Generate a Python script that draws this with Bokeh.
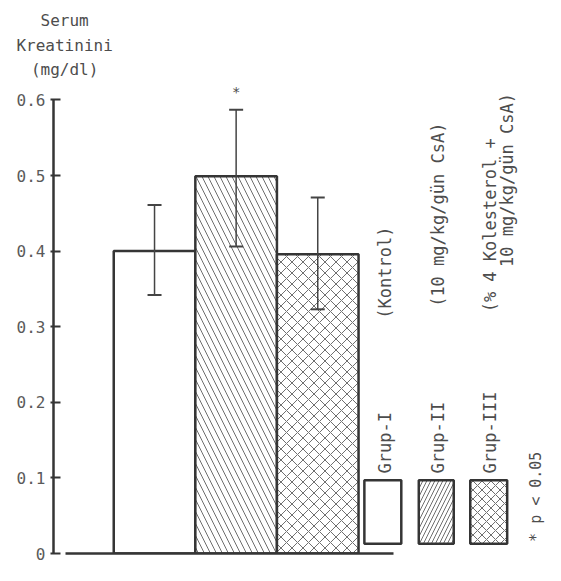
import math
from bokeh.plotting import figure
from bokeh.layouts import column
from bokeh.models import (Range1d, FixedTicker, LinearAxis, Whisker, TeeHead,
                          ColumnDataSource, Label)
from bokeh.embed import file_html
from bokeh.resources import INLINE

# ---------------- data ----------------
groups = ["Grup-I", "Grup-II", "Grup-III"]
group_desc = ["(Kontrol)", "(10 mg/kg/gün CsA)", "(% 4 Kolesterol +"]
group_desc2 = ["", "", "10 mg/kg/gün CsA)"]
means = [0.400, 0.499, 0.396]
err_upper = [0.461, 0.587, 0.471]
err_lower = [0.342, 0.406, 0.323]
sig_marks = ["", "*", ""]
y_ticks = [0, 0.1, 0.2, 0.3, 0.4, 0.5, 0.6]
y_tick_labels = ["0", "0.1", "0.2", "0.3", "0.4", "0.5", "0.6"]
y_title = ["Serum", "Kreatinini", "(mg/dl)"]
sig_note = "* p < 0.05"

# ---------------- layout helpers ----------------
W, H = 545, 565
SX = W / 561.0                          # reference x pixel -> figure pixel
SY = 553 / 573.0                        # reference y pixel -> figure pixel
TOP_H = 80                              # height of the title strip
MAIN_H = H - TOP_H

def dx(px):                             # reference x pixel -> data x
    return 1 + (px - 159) / 84.0

def dy(py):                             # reference y pixel -> data y
    return (573 - py) / 783.3

FONT = "DejaVu Sans Mono"
TXT = "#4d4d4d"
LINE = "#353535"
HATCH = "#6e6e6e"

# ---------------- title strip ----------------
top = figure(width=W, height=TOP_H, output_backend="svg", toolbar_location=None,
             x_range=Range1d(0, W), y_range=Range1d(TOP_H, 0),
             x_axis_type=None, y_axis_type=None,
             min_border=0, outline_line_color=None)
top.frame_align = False
for t, yy in zip(y_title, [21, 47, 71]):
    top.add_layout(Label(x=66 * SX, y=yy * SY, text=t, text_align="center",
                         text_baseline="middle", text_font=FONT,
                         text_font_size="16px", text_color=TXT))

# ---------------- main chart ----------------
frame_left = round(55 * SX)
frame_bottom = 573 * SY - TOP_H
px_per_unit = (573 - 103) * SY / 0.6
x_unit_px = 84 * SX

p = figure(width=W, height=MAIN_H, output_backend="svg", toolbar_location=None,
           x_range=Range1d(dx(55), dx(55) + (W - frame_left) / x_unit_px),
           y_range=Range1d(0, frame_bottom / px_per_unit),
           x_axis_type=None, y_axis_type=None,
           min_border_left=frame_left, min_border_right=0, min_border_top=0,
           min_border_bottom=round(MAIN_H - frame_bottom))
p.frame_align = False
p.outline_line_color = None
p.background_fill_color = "white"

yaxis = LinearAxis(ticker=FixedTicker(ticks=y_ticks),
                   major_label_overrides={v: s for v, s in zip(y_ticks, y_tick_labels)},
                   bounds=(0, 0.6))
yaxis.axis_line_color = LINE
yaxis.axis_line_width = 2.5
yaxis.major_tick_line_color = LINE
yaxis.major_tick_line_width = 2
yaxis.major_tick_in = 7
yaxis.major_tick_out = 3
yaxis.minor_tick_line_color = None
yaxis.major_label_standoff = 5
yaxis.major_label_text_font = FONT
yaxis.major_label_text_font_size = "16px"
yaxis.major_label_text_color = "#5a5a5a"
p.add_layout(yaxis, "left")

xaxis = LinearAxis(ticker=FixedTicker(ticks=[]), bounds=(dx(67), dx(405)))
xaxis.axis_line_color = LINE
xaxis.axis_line_width = 2.5
xaxis.major_tick_in = 0
xaxis.major_tick_out = 0
xaxis.minor_tick_line_color = None
xaxis.major_label_text_font_size = "0px"
xaxis.major_label_standoff = 0
p.add_layout(xaxis, "below")

xs = [1, 2, 3]
src = ColumnDataSource(dict(x=xs, top=means, upper=err_upper, lower=err_lower,
                            hatch=[" ", "\\", "x"], hscale=[10, 12, 11]))
p.vbar(x="x", top="top", bottom=0, width=1, source=src,
       fill_color="white", line_color=LINE, line_width=2.5,
       hatch_pattern="hatch", hatch_scale="hscale", hatch_color=HATCH,
       hatch_weight=1)

w = Whisker(source=src, base="x", upper="upper", lower="lower",
            dimension="height", line_color="#444444", line_width=1.5,
            level="overlay",
            upper_head=TeeHead(size=14, line_color="#444444", line_width=2),
            lower_head=TeeHead(size=14, line_color="#444444", line_width=2))
p.add_layout(w)

for x, up, m in zip(xs, err_upper, sig_marks):
    if m:
        p.add_layout(Label(x=x, y=up + 0.024, text=m, text_font=FONT,
                           text_font_size="14px", text_color=TXT,
                           text_align="center", text_baseline="middle"))

# legend swatches
sw_left = [dx(375), dx(431), dx(484)]
sw_right = [dx(413), dx(467), dx(522)]
p.quad(left=sw_left, right=sw_right, bottom=dy(563), top=dy(497),
       fill_color="white", line_color=LINE, line_width=2.5,
       hatch_pattern=[" ", "/", "x"], hatch_scale=[8, 8, 9],
       hatch_color=HATCH, hatch_weight=1)

col_x = [396, 451, 504]
desc_center = [282, 222, 233]
for g, d, d2, cx, dc in zip(groups, group_desc, group_desc2, col_x, desc_center):
    p.add_layout(Label(x=dx(cx), y=dy(490), text=g, angle=math.pi / 2,
                       text_align="left", text_baseline="middle",
                       text_font=FONT, text_font_size="17px", text_color=TXT))
    p.add_layout(Label(x=dx(cx), y=dy(dc), text=d, angle=math.pi / 2,
                       text_align="center", text_baseline="middle",
                       text_font=FONT, text_font_size="17px", text_color=TXT))
    if d2:
        p.add_layout(Label(x=dx(cx + 18), y=dy(186), text=d2, angle=math.pi / 2,
                           text_align="center", text_baseline="middle",
                           text_font=FONT, text_font_size="17px", text_color=TXT))

p.add_layout(Label(x=dx(552), y=dy(561), text=sig_note, angle=math.pi / 2,
                   text_align="left", text_baseline="middle",
                   text_font=FONT, text_font_size="15px", text_color=TXT))

layout = column(top, p, spacing=0)
open("out.html", "w").write(file_html(layout, INLINE))
